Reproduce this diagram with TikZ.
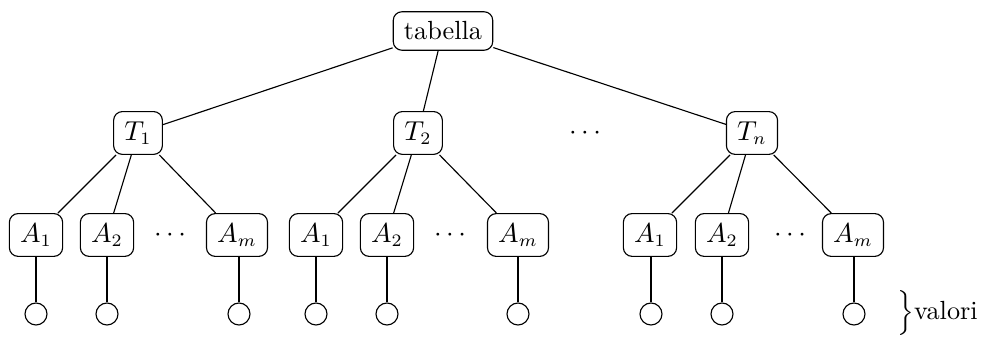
\documentclass[tikz,border=0pt]{standalone}
\begin{document}
\begin{tikzpicture}[x=0.4pt,y=-0.4pt,
  font=\fontsize{10.5}{12.5}\selectfont,
  box/.style={draw,rounded corners=3.5pt,inner xsep=4.3pt,inner ysep=4pt,line width=0.45pt},
  val/.style={draw,circle,minimum size=8.8pt,inner sep=0pt,line width=0.45pt},
  every path/.style={line width=0.45pt}]
\useasboundingbox (0,0) rectangle (983,337);
\node[box] (r) at (443,31) {tabella};
\node[box] (t1) at (138,133) {$T_1$};
\node[box] (t2) at (418,133) {$T_2$};
\node (td) at (585,133) {$\cdots$};
\node[box] (t3) at (752,133) {$T_n$};
\draw (r) -- (t1);
\draw (r) -- (t2);
\draw (r) -- (t3);
% group 1
\node[box] (a11) at (36,235) {$A_1$};
\node[box] (a12) at (107,235) {$A_2$};
\node (a1d) at (170,235) {$\cdots$};
\node[box] (a1m) at (237,235) {$A_m$};
% group 2
\node[box] (a21) at (316,235) {$A_1$};
\node[box] (a22) at (387,235) {$A_2$};
\node (a2d) at (450,235) {$\cdots$};
\node[box] (a2m) at (518,235) {$A_m$};
% group 3
\node[box] (a31) at (650,235) {$A_1$};
\node[box] (a32) at (722,235) {$A_2$};
\node (a3d) at (790,235) {$\cdots$};
\node[box] (a3m) at (853,235) {$A_m$};
\foreach \t/\g in {t1/1,t2/2,t3/3}{
  \draw (\t) -- (a\g1);
  \draw (\t) -- (a\g2);
  \draw (\t) -- (a\g m);
}
\foreach \a/\x in {a11/36,a12/107,a1m/239,a21/316,a22/387,a2m/518,a31/651,a32/722,a3m/854}{
  \node[val] (v\a) at (\x,314) {};
  \draw (v\a) -- (v\a |- \a.south);
}
\node[anchor=base west,inner sep=0pt] (lab) at (897,320) {$\Big\}$valori};
\end{tikzpicture}
\end{document}
